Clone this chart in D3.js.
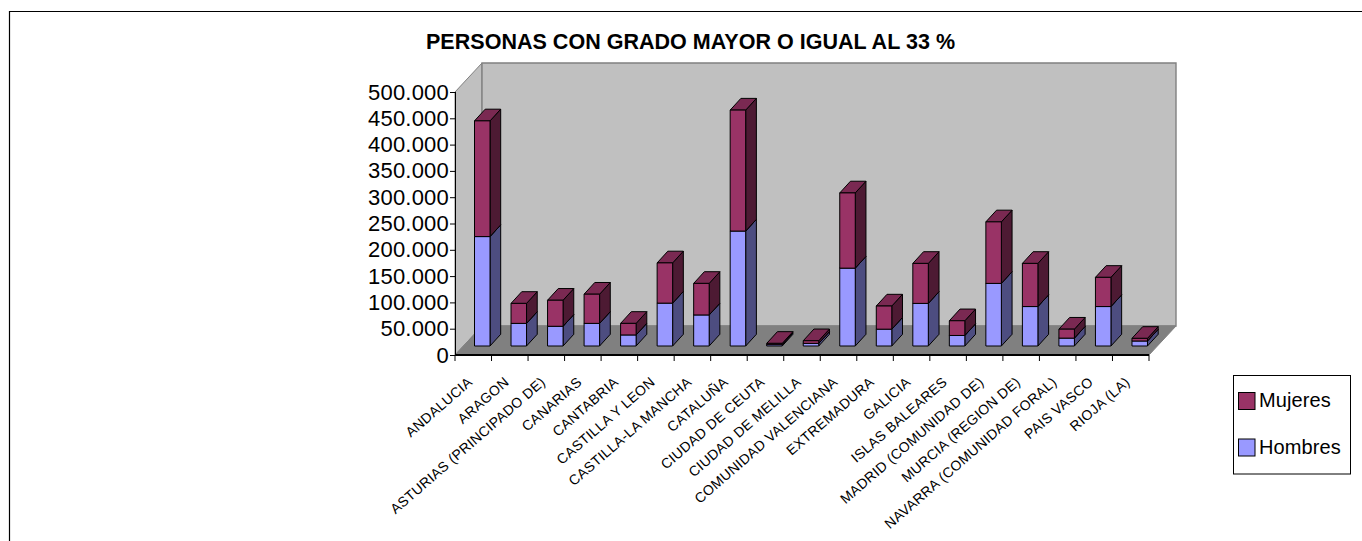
<!DOCTYPE html>
<html>
<head>
<meta charset="utf-8">
<script src="https://cdn.jsdelivr.net/npm/d3@7"></script>
<style>
  html, body { margin: 0; padding: 0; background: #fff; overflow: hidden; }
  text { font-family: "Liberation Sans", Arial, sans-serif; fill: #000; }
</style>
</head>
<body>
<script>
var categories = ["ANDALUCIA", "ARAGON", "ASTURIAS (PRINCIPADO DE)", "CANARIAS", "CANTABRIA", "CASTILLA Y LEON",
  "CASTILLA-LA MANCHA", "CATALUÑA", "CIUDAD DE CEUTA", "CIUDAD DE MELILLA", "COMUNIDAD VALENCIANA", "EXTREMADURA",
  "GALICIA", "ISLAS BALEARES", "MADRID (COMUNIDAD DE)", "MURCIA (REGION DE)", "NAVARRA (COMUNIDAD FORAL)", "PAIS VASCO", "RIOJA (LA)"];
var hombres = [208000, 43000, 37500, 43000, 21000, 81500, 59000, 218500, 2500, 5000, 148000, 32000, 81000, 20000, 119000, 75000, 15000, 75000, 9500];
var mujeres = [220000, 38000, 49500, 55500, 22000, 76500, 60000, 230000, 2500, 5000, 143000, 44000, 76000, 28000, 117000, 82000, 17000, 55500, 5000];
var yTicks = [0, 50000, 100000, 150000, 200000, 250000, 300000, 350000, 400000, 450000, 500000];
var seriesNames = ["Mujeres", "Hombres"];
var titleText = "PERSONAS CON GRADO MAYOR O IGUAL AL 33 %";

var width = 1362, height = 541;
var depth = 27, barDepthX = 10.7, barDepthY = 11.7, barLift = 9;

var svg = d3.select("body").append("svg")
    .attr("width", width)
    .attr("height", height)
    .style("display", "block");

/************* scales ***************/
var x = d3.scaleBand().domain(categories).range([455, 1149]);
var y = d3.scaleLinear().domain([0, 500000]).range([355, 92]);
var esLocale = d3.formatLocale({ decimal: ",", thousands: ".", grouping: [3], currency: ["", "€"] });

/************* outer border, only top and left are in the shot ***************/
svg.append("path")
    .attr("d", "M9.5,541V11.5H1362")
    .attr("fill", "none")
    .attr("stroke", "#000")
    .attr("stroke-width", 1.2);

/************* title ***************/
svg.append("text")
    .attr("x", 426)
    .attr("y", 49)
    .attr("font-size", 21.5)
    .attr("font-weight", "bold")
    .attr("textLength", 529)
    .attr("lengthAdjust", "spacing")
    .text(titleText);

/************* walls and floor ***************/
var x0 = x.range()[0], x1 = x.range()[1], y0 = y(0), yTop = y(500000);

svg.append("polygon")
    .attr("points", [[x0, yTop], [x0 + depth, yTop - 29], [x0 + depth, y0 - 29], [x0, y0]].join(" "))
    .attr("fill", "#c0c0c0")
    .attr("stroke", "#808080");
svg.append("polygon")
    .attr("points", [[x0 + depth, yTop - 29], [x1 + depth, yTop - 29], [x1 + depth, y0 - 29], [x0 + depth, y0 - 29]].join(" "))
    .attr("fill", "#c0c0c0")
    .attr("stroke", "#808080")
    .attr("stroke-width", 1.4);
svg.append("polygon")
    .attr("points", [[x0, y0], [x0 + depth, y0 - 29], [x1 + depth, y0 - 29], [x1, y0]].join(" "))
    .attr("fill", "#808080")
    .attr("stroke", "#808080");

/************* axes ***************/
var yAxis = d3.axisLeft(y)
    .tickValues(yTicks)
    .tickSize(5)
    .tickPadding(1)
    .tickFormat(function(d) { return esLocale.format(",")(d); });

var yGroup = svg.append("g")
    .attr("transform", "translate(" + x0 + ",0)")
    .call(yAxis);
yGroup.select(".domain").attr("d", "M0.5," + yTop + "V" + y0).attr("stroke", "#000");
yGroup.selectAll("text")
    .attr("font-size", 22)
    .attr("font-family", "Liberation Sans")
    .attr("letter-spacing", 0.2)
    .attr("fill", "#000");
yGroup.selectAll("line").attr("stroke", "#000");

svg.append("line")
    .attr("x1", x0).attr("x2", x1)
    .attr("y1", y0).attr("y2", y0)
    .attr("stroke", "#000")
    .attr("stroke-width", 2);

var tickXs = categories.map(function(c) { return x(c); }).concat([x1]);
svg.append("g").selectAll("line")
    .data(tickXs)
    .enter().append("line")
    .attr("x1", function(d) { return d; })
    .attr("x2", function(d) { return d; })
    .attr("y1", y0)
    .attr("y2", y0 + 6)
    .attr("stroke", "#000");

svg.append("g").selectAll("text")
    .data(categories)
    .enter().append("text")
    .attr("text-anchor", "end")
    .attr("font-size", 14)
    .attr("letter-spacing", 0.3)
    .attr("transform", function(d) {
        return "translate(" + (x(d) + x.bandwidth() / 2) + ",383.5) rotate(-41)";
    })
    .text(function(d) { return d; });

/************* bars ***************/
var colors = {
    Hombres: { front: "#9999ff", side: "#4d4d80", top: "#7a7acc" },
    Mujeres: { front: "#993366", side: "#4d1a33", top: "#7a2952" }
};

function drawBox(g, left, w, bottom, top, c) {
    var r = left + w;
    g.append("polygon")
        .attr("points", [[r, bottom], [r + barDepthX, bottom - barDepthY], [r + barDepthX, top - barDepthY], [r, top]].join(" "))
        .attr("fill", c.side);
    g.append("polygon")
        .attr("points", [[left, top], [left + barDepthX, top - barDepthY], [r + barDepthX, top - barDepthY], [r, top]].join(" "))
        .attr("fill", c.top);
    g.append("rect")
        .attr("x", left)
        .attr("y", top)
        .attr("width", w)
        .attr("height", bottom - top)
        .attr("fill", c.front);
    g.selectAll("polygon,rect")
        .attr("stroke", "#000")
        .attr("stroke-width", 1)
        .attr("stroke-linejoin", "round");
}

var barW = 15.5, barOffset = 19.5;
categories.forEach(function(c, i) {
    var g = svg.append("g").attr("class", "bar");
    var left = x(c) + barOffset;
    var b1 = y(0) - barLift;
    var t1 = y(hombres[i]) - barLift;
    var t2 = y(hombres[i] + mujeres[i]) - barLift;
    var gH = g.append("g"), gM = g.append("g");
    drawBox(gH, left, barW, b1, t1, colors.Hombres);
    drawBox(gM, left, barW, t1, t2, colors.Mujeres);
});

/************* legend ***************/
var legend = svg.append("g").attr("class", "legend");
legend.append("rect")
    .attr("x", 1233.5).attr("y", 375.5)
    .attr("width", 117).attr("height", 98.5)
    .attr("fill", "#fff")
    .attr("stroke", "#000");

legend.selectAll("rect.key")
    .data(seriesNames)
    .enter().append("rect")
    .attr("class", "key")
    .attr("x", 1238.5)
    .attr("y", function(d, i) { return 392.5 + i * 46.5; })
    .attr("width", 16.5)
    .attr("height", 17)
    .attr("fill", function(d) { return colors[d].front; })
    .attr("stroke", "#000");

legend.selectAll("text")
    .data(seriesNames)
    .enter().append("text")
    .attr("x", 1259)
    .attr("y", function(d, i) { return 407 + i * 46.5; })
    .attr("font-size", 20)
    .attr("letter-spacing", 0.1)
    .text(function(d) { return d; });
</script>
</body>
</html>
